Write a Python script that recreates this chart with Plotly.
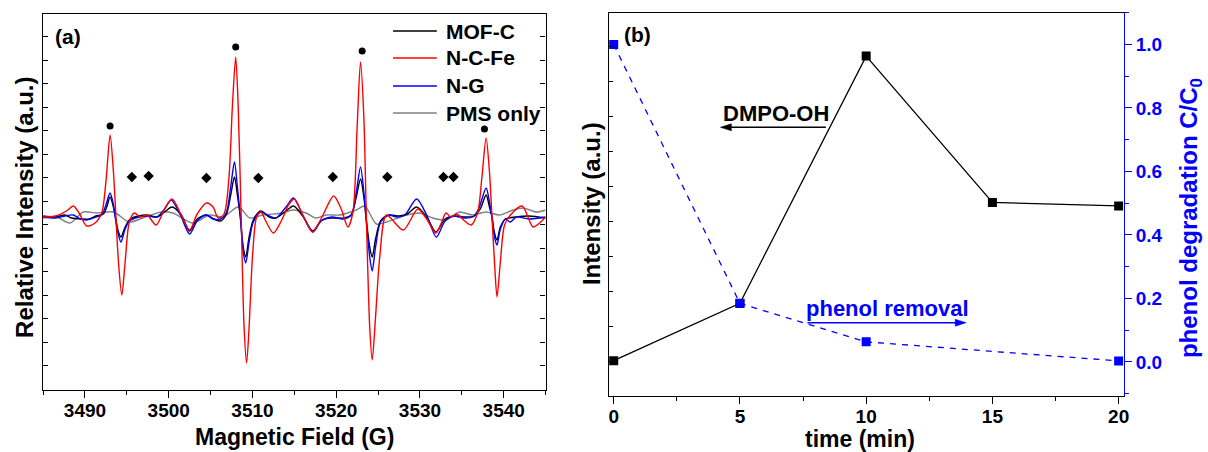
import plotly.graph_objects as go

# ---------------- (a) EPR spectra (relative intensity, a.u.) ----------------
mofc_field = [3485.0, 3486.5, 3487.6, 3488.4, 3489.5, 3490.5, 3491.3, 3492.2, 3492.6, 3493.0,
              3493.4, 3493.7, 3494.0, 3494.3, 3494.8, 3495.4, 3496.4, 3497.4, 3498.6, 3499.5,
              3500.4, 3501.5, 3502.5, 3503.4, 3504.5, 3505.4, 3506.2, 3506.9, 3507.4, 3507.85,
              3508.2, 3508.55, 3508.9, 3509.2, 3509.6, 3510.1, 3511.0, 3512.0, 3512.8, 3514.0,
              3514.9, 3516.0, 3517.2, 3518.3, 3519.5, 3521.0, 3521.8, 3522.4, 3522.9, 3523.3,
              3523.6, 3524.0, 3524.3, 3524.7, 3525.3, 3526.3, 3527.5, 3528.5, 3529.6, 3530.8,
              3531.9, 3533.0, 3534.2, 3535.2, 3536.5, 3537.2, 3537.9, 3538.3, 3538.6, 3538.9,
              3539.2, 3539.6, 3540.2, 3541.5, 3543.0, 3545.0]
mofc_int = [1, 0, 2, -1, -2, -2, 1, 3, 10, 20,
            10, -3, -15, -20, -10, -2, 1, 2, 0, 5,
            10, 2, -14, -2, 2, -2, -4, 3, 22, 40,
            22, 0, -30, -40, -20, -3, 6, 0, -1, 6,
            11, 1, -14, -3, -1, -1, 2, 20, 38, 20,
            -3, -30, -40, -22, -4, 2, 1, 3, 10, 0,
            -15, -2, 1, 0, 1, 8, 22, 10, 0, -16,
            -23, -10, -2, 0, 1, -1]

ncfe_field = [3485.0, 3486.5, 3487.8, 3488.6, 3489.3, 3490.2, 3491.2, 3492.0, 3492.5, 3493.0,
              3493.4, 3493.7, 3494.0, 3494.4, 3494.8, 3495.3, 3495.9, 3496.6, 3497.4, 3498.5,
              3499.5, 3500.4, 3501.5, 3502.5, 3503.4, 3504.5, 3505.3, 3505.9, 3506.6, 3507.2,
              3507.6, 3508.0, 3508.3, 3508.65, 3509.0, 3509.3, 3509.6, 3510.0, 3510.5, 3511.0,
              3511.7, 3512.5, 3513.5, 3514.3, 3515.0, 3516.0, 3517.2, 3518.3, 3519.7, 3520.6,
              3521.4, 3522.0, 3522.5, 3522.9, 3523.3, 3523.6, 3524.0, 3524.3, 3524.7, 3525.2,
              3526.0, 3528.0, 3529.75, 3530.8, 3531.9, 3532.6, 3533.1, 3533.7, 3534.4, 3535.2,
              3536.1, 3536.9, 3537.4, 3537.9, 3538.3, 3538.6, 3538.9, 3539.2, 3539.6, 3540.1,
              3540.8, 3542.2, 3543.5, 3544.3, 3545.0]
ncfe_int = [0, 1, 6, 11, 4, -9, -6, 4, 35, 82,
            45, 0, -45, -78, -45, -5, 4, 0, 2, -8,
            8, 18, 2, -13, 3, 14, 10, -1, 3, 40,
            110, 160, 110, 0, -110, -146, -110, -40, 0, 5,
            -6, -16, -3, 12, 18, 2, -15, 0, 21, 8,
            -10, 5, 90, 155, 100, 0, -110, -143, -100, -40,
            2, -13, 8, -2, -16, -5, 4, 0, 3, -3,
            -8, 5, 40, 79, 45, 0, -45, -80, -45, -8,
            2, 11, -10, -6, 0]

ng_field = [3485.0, 3486.5, 3487.6, 3488.6, 3489.5, 3490.2, 3491.3, 3492.0, 3492.5, 3493.0,
            3493.4, 3493.7, 3494.0, 3494.3, 3494.8, 3495.3, 3496.0, 3497.4, 3498.6, 3499.5,
            3500.3, 3501.4, 3502.5, 3503.4, 3504.5, 3505.3, 3506.2, 3506.9, 3507.4, 3507.85,
            3508.2, 3508.55, 3508.9, 3509.2, 3509.6, 3510.1, 3511.0, 3512.0, 3512.8, 3514.0,
            3514.9, 3516.0, 3517.2, 3518.2, 3519.5, 3520.8, 3521.8, 3522.4, 3522.9, 3523.3,
            3523.6, 3524.0, 3524.3, 3524.7, 3525.3, 3526.3, 3527.2, 3528.2, 3529.6, 3530.8,
            3531.95, 3533.0, 3534.0, 3535.2, 3536.3, 3537.0, 3537.9, 3538.3, 3538.6, 3538.9,
            3539.2, 3539.6, 3540.2, 3540.8, 3541.5, 3543.0, 3545.0]
ng_int = [0, -1, 1, 2, -2, -3, 0, 2, 12, 24,
          12, -5, -18, -25, -12, -4, -1, 1, 0, 8,
          17, 2, -17, -4, 2, -2, -2, 5, 30, 55,
          30, 0, -35, -46, -25, -5, 5, 1, -1, 10,
          19, 2, -15, -4, 0, -2, 2, 25, 50, 25,
          -5, -40, -54, -30, -5, 2, 0, 2, 18, 2,
          -20, -4, 1, -1, 0, 8, 29, 15, 0, -20,
          -28, -12, -2, -5, 0, -2, 0]

pms_field = [3485.0, 3486.6, 3488.2, 3489.8, 3491.4, 3493.4, 3495.3, 3496.9, 3499.1, 3500.5,
             3502.9, 3504.9, 3506.5, 3508.3, 3509.7, 3511.25, 3513.6, 3514.8, 3516.4, 3517.6,
             3518.8, 3520.4, 3522.4, 3523.4, 3524.8, 3526.0, 3528.4, 3530.0, 3531.5, 3533.1,
             3534.7, 3536.3, 3537.9, 3539.5, 3541.1, 3542.3, 3543.9, 3545.0]
pms_int = [-1, 0, -6, 5, 4, 5, -5, -1, 5, 4,
           -6, 2, 0, 10, -1, 2, 4, 7, 4, -1,
           2, 2, 7, 11, -7, -5, 2, 4, -1, -3,
           5, 2, 5, 2, 7, 9, 5, 7]

# peak labels: DMPO-OH (circles) and DMPO-SO4 (diamonds)
oh_field = [3493.0, 3508.0, 3523.1, 3537.7]
oh_int = [91, 170, 166, 88]
so4_field = [3495.6, 3497.6, 3504.5, 3510.7, 3519.6, 3526.1, 3532.8, 3534.0]
so4_int = [40, 41, 39, 39, 40, 40, 40, 40]

# ---------------- (b) time courses ----------------
time_min = [0, 5, 10, 15, 20]
dmpo_oh_intensity = [0.03, 1.67, 8.73, 4.55, 4.45]
phenol_time = [0, 5, 10, 20]
phenol_c_c0 = [1.0, 0.184, 0.063, 0.003]

FONT = "Liberation Sans, Arial, sans-serif"
BLUE = "#0000FF"
RED = "#FF0000"
GRAY = "#808080"
AXW = 1.4
W, H = 1208, 452


def px(xp):
    return xp / W


def py(yp):
    return 1 - yp / H


fig = go.Figure()

spectra = [
    ("MOF-C", mofc_field, mofc_int, "black"),
    ("N-C-Fe", ncfe_field, ncfe_int, RED),
    ("N-G", ng_field, ng_int, BLUE),
    ("PMS only", pms_field, pms_int, GRAY),
]
# gray underneath, then black, blue, red on top
for name, fx, fy, col in [spectra[3], spectra[0], spectra[2], spectra[1]]:
    fig.add_trace(go.Scatter(x=fx, y=fy, name=name, mode="lines",
                             line=dict(color=col, width=1.4, shape="spline", smoothing=0.8),
                             xaxis="x", yaxis="y", showlegend=False))

fig.add_trace(go.Scatter(x=oh_field, y=oh_int, mode="markers", showlegend=False,
                         marker=dict(symbol="circle", size=7, color="black"),
                         xaxis="x", yaxis="y"))
fig.add_trace(go.Scatter(x=so4_field, y=so4_int, mode="markers", showlegend=False,
                         marker=dict(symbol="diamond", size=8, color="black"),
                         xaxis="x", yaxis="y"))

# (b) DMPO-OH intensity on the left axis
fig.add_trace(go.Scatter(x=time_min, y=dmpo_oh_intensity, mode="lines+markers", showlegend=False,
                         line=dict(color="black", width=1.3),
                         marker=dict(symbol="square", size=9, color="black"),
                         xaxis="x2", yaxis="y2"))
# (b) phenol removal on the right axis
fig.add_trace(go.Scatter(x=phenol_time, y=phenol_c_c0, mode="lines+markers", showlegend=False,
                         line=dict(color=BLUE, width=1.3, dash="6px,6px"),
                         marker=dict(symbol="square", size=9, color=BLUE),
                         xaxis="x2", yaxis="y3"))

tickfont = dict(family=FONT, size=19, color="black", weight="bold")

A_X = [px(43.3), px(548.3)]
A_Y = [py(390), py(14)]
B_X = [px(611.7), px(1129.3)]
B_Y = [py(395.5), py(12.7)]

fig.update_layout(
    width=W, height=H, autosize=False,
    margin=dict(l=0, r=0, t=0, b=0),
    paper_bgcolor="white", plot_bgcolor="white",
    font=dict(family=FONT, color="black"),
    xaxis=dict(domain=A_X, anchor="y", range=[3485, 3545], showgrid=False, zeroline=False,
               showline=True, linecolor="black", linewidth=AXW, mirror=True,
               ticks="outside", ticklen=7, tickwidth=AXW, tickcolor="black",
               dtick=10, tick0=3490, tickfont=tickfont, ticklabelstandoff=-4,
               minor=dict(dtick=5, tick0=3485, ticks="outside", ticklen=4, tickwidth=AXW,
                          tickcolor="black", showgrid=False)),
    xaxis3=dict(overlaying="x", anchor="y", side="top", range=[3485, 3545], showgrid=False,
                zeroline=False, showline=False, ticks="inside", ticklen=4, tickwidth=AXW,
                tickcolor="black", dtick=5, tick0=3485, showticklabels=False),
    yaxis=dict(domain=A_Y, anchor="x", range=[-173, 203], showgrid=False, zeroline=False,
               showline=True, linecolor="black", linewidth=AXW, mirror="ticks",
               ticks="inside", ticklen=5, tickwidth=AXW, tickcolor="black",
               tick0=16, dtick=23.5, showticklabels=False),
    xaxis2=dict(domain=B_X, anchor="y2", range=[-0.2, 20.2], showgrid=False, zeroline=False,
                showline=True, linecolor="black", linewidth=AXW, mirror=True,
                ticks="outside", ticklen=7, tickwidth=AXW, tickcolor="black",
                dtick=5, tick0=0, tickfont=tickfont, ticklabelstandoff=-4,
                minor=dict(dtick=2.5, tick0=0, ticks="outside", ticklen=4, tickwidth=AXW,
                           tickcolor="black", showgrid=False)),
    xaxis4=dict(overlaying="x2", anchor="y2", side="top", range=[-0.2, 20.2], showgrid=False,
                zeroline=False, showline=False, ticks="inside", ticklen=4, tickwidth=AXW,
                tickcolor="black", dtick=2.5, tick0=0, showticklabels=False),
    yaxis2=dict(domain=B_Y, anchor="x2", range=[-0.966, 9.97], showgrid=False, zeroline=False,
                showline=True, linecolor="black", linewidth=AXW, mirror=False,
                ticks="inside", ticklen=4, tickwidth=AXW, tickcolor="black",
                tick0=0, dtick=1, showticklabels=False),
    yaxis3=dict(overlaying="y2", anchor="x2", side="right", range=[-0.106, 1.1],
                showgrid=False, zeroline=False, showline=True, linecolor=BLUE, linewidth=AXW,
                ticks="outside", ticklen=7, tickwidth=AXW, tickcolor=BLUE,
                tick0=0, dtick=0.2, tickformat=".1f",
                tickfont=dict(family=FONT, size=19, color=BLUE, weight="bold"),
                minor=dict(dtick=0.1, tick0=0, ticks="outside", ticklen=4, tickwidth=AXW,
                           tickcolor=BLUE, showgrid=False)),
)


def bold(size, color="black"):
    return dict(family=FONT, size=size, color=color, weight="bold")


def label(text, xp, yp, size, color="black", angle=0, xanchor="center"):
    return dict(text=text, x=px(xp), y=py(yp), xref="paper", yref="paper",
                xanchor=xanchor, yanchor="middle", textangle=angle,
                showarrow=False, font=bold(size, color))


ann = [
    # axis titles
    label("Magnetic Field (G)", (43.3 + 548.3) / 2, 436.5, 23),
    label("Relative Intensity (a.u.)", 24, 207, 24, angle=-90),
    label("time (min)", 864, 438.5, 23),
    label("Intensity (a.u.)", 594, 204, 24, angle=-90),
    label("phenol degradation C/C<sub>0</sub>", 1196, 218, 24, BLUE, angle=-90),
    # panel tags
    label("(a)", 68, 36, 21),
    label("(b)", 641, 34, 21),
    # series captions in (b)
    label("DMPO-OH", 780, 113, 22),
    label("phenol removal", 892, 308, 22, BLUE),
]

shapes = []


def arrow(x_tail, x_head, yp, col):
    # shaft plus a filled triangular head, in paper coordinates
    d = 1 if x_head > x_tail else -1
    shapes.append(dict(type="line", xref="paper", yref="paper",
                       x0=px(x_tail), x1=px(x_head - d * 8), y0=py(yp), y1=py(yp),
                       line=dict(color=col, width=1.4)))
    path = "M {} {} L {} {} L {} {} Z".format(
        px(x_head), py(yp), px(x_head - d * 11), py(yp - 3.5), px(x_head - d * 11), py(yp + 3.5))
    shapes.append(dict(type="path", xref="paper", yref="paper", path=path,
                       fillcolor=col, line=dict(color=col, width=0.5)))


arrow(830, 724, 127.3, "black")
arrow(811.5, 971, 322.7, BLUE)

# legend for (a): line samples + labels
legend_rows = [("MOF-C", "black", 31), ("N-C-Fe", RED, 58), ("N-G", BLUE, 86), ("PMS only", GRAY, 113)]
for name, col, ypx in legend_rows:
    shapes.append(dict(type="line", xref="paper", yref="paper", x0=px(395), x1=px(439),
                       y0=py(ypx), y1=py(ypx), line=dict(color=col, width=1.6)))
    ann.append(label(name, 446, ypx, 21, xanchor="left"))

fig.update_layout(annotations=ann, shapes=shapes)

fig.write_html("out.html")
